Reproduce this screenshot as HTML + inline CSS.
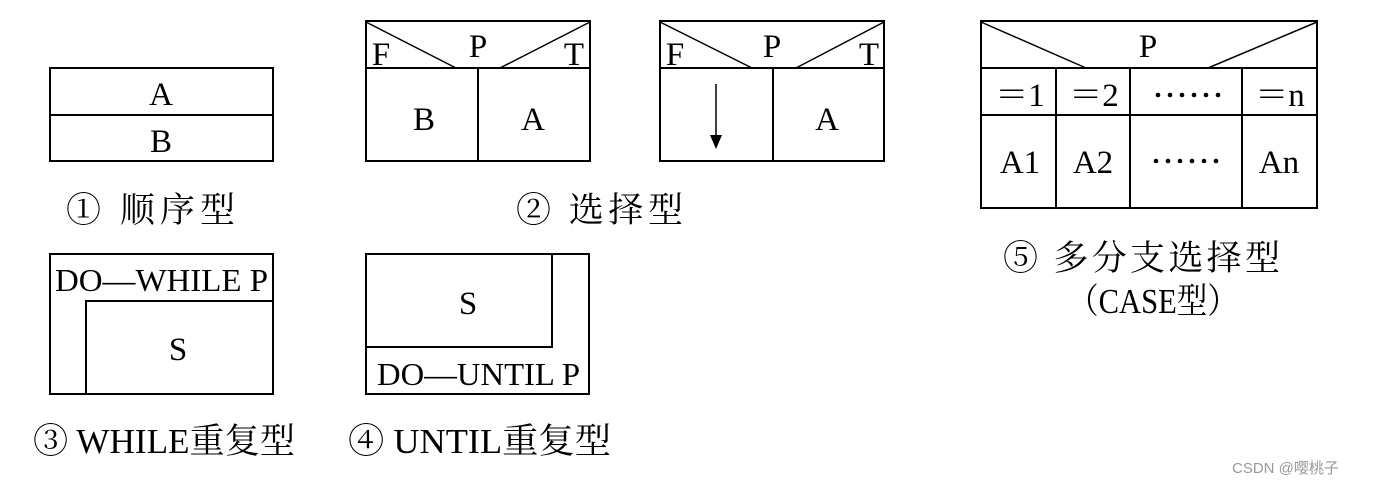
<!DOCTYPE html>
<html><head><meta charset="utf-8"><style>
html,body{margin:0;padding:0;background:#fff;}
svg text{font-family:"Liberation Serif","Noto Serif CJK SC",serif;fill:#000;}
.c{font-family:"Liberation Sans","Noto Sans CJK SC",sans-serif;}
</style></head><body>
<svg width="1380" height="486" viewBox="0 0 1380 486" xmlns="http://www.w3.org/2000/svg">
<g fill="none" stroke="#000" stroke-width="2">
<!-- 1 -->
<rect x="50" y="68" width="223" height="93"/>
<line x1="50" y1="115" x2="273" y2="115"/>
<!-- 2a -->
<rect x="366" y="21" width="224" height="140"/>
<line x1="366" y1="68" x2="590" y2="68"/>
<line x1="478" y1="68" x2="478" y2="161"/>
<line x1="366" y1="22" x2="456" y2="68" stroke-width="1.5"/>
<line x1="590" y1="22" x2="500" y2="68" stroke-width="1.5"/>
<!-- 2b -->
<rect x="660" y="21" width="224" height="140"/>
<line x1="660" y1="68" x2="884" y2="68"/>
<line x1="773" y1="68" x2="773" y2="161"/>
<line x1="660" y1="22" x2="752" y2="68" stroke-width="1.5"/>
<line x1="884" y1="22" x2="796" y2="68" stroke-width="1.5"/>
<line x1="716" y1="84" x2="716" y2="140" stroke-width="1.5"/>
<!-- 5 -->
<rect x="981" y="21" width="336" height="187"/>
<line x1="981" y1="68" x2="1317" y2="68"/>
<line x1="981" y1="115" x2="1317" y2="115"/>
<line x1="1056" y1="68" x2="1056" y2="208"/>
<line x1="1130" y1="68" x2="1130" y2="208"/>
<line x1="1242" y1="68" x2="1242" y2="208"/>
<line x1="981" y1="22" x2="1086" y2="68" stroke-width="1.5"/>
<line x1="1317" y1="22" x2="1208" y2="68" stroke-width="1.5"/>
<!-- 3 -->
<rect x="50" y="254" width="223" height="140"/>
<polyline points="86,394 86,301 273,301"/>
<!-- 4 -->
<rect x="366" y="254" width="223" height="140"/>
<polyline points="366,347 552,347 552,254"/>
</g>
<polygon points="710,135 722,135 716,149" fill="#000"/>
<g fill="#000">
<circle cx="1158" cy="95" r="2.3"/><circle cx="1170" cy="95" r="2.3"/><circle cx="1182" cy="95" r="2.3"/><circle cx="1194" cy="95" r="2.3"/><circle cx="1206" cy="95" r="2.3"/><circle cx="1218" cy="95" r="2.3"/>
<circle cx="1156" cy="161" r="2.3"/><circle cx="1168" cy="161" r="2.3"/><circle cx="1180" cy="161" r="2.3"/><circle cx="1192" cy="161" r="2.3"/><circle cx="1204" cy="161" r="2.3"/><circle cx="1216" cy="161" r="2.3"/>
</g>
<g font-size="33" text-anchor="middle">
<text x="161" y="105">A</text>
<text x="161" y="152">B</text>
<text x="381" y="65">F</text>
<text x="478" y="57">P</text>
<text x="574" y="65">T</text>
<text x="424" y="130">B</text>
<text x="533" y="130">A</text>
<text x="675" y="65">F</text>
<text x="772" y="57">P</text>
<text x="869" y="65">T</text>
<text x="827" y="130">A</text>
<text x="1148" y="57">P</text>
<text x="1020" y="106">＝1</text>
<text x="1094" y="106">＝2</text>
<text x="1280" y="106">＝n</text>
<text x="1020" y="173">A1</text>
<text x="1093" y="173">A2</text>
<text x="1279" y="173">An</text>
<text x="178" y="360">S</text>
<text x="468" y="314">S</text>
</g>
<g font-size="32">
<text x="55" y="291" textLength="213" lengthAdjust="spacingAndGlyphs">DO—WHILE P</text>
<text x="377" y="385" textLength="203" lengthAdjust="spacingAndGlyphs">DO—UNTIL P</text>
</g>
<g font-size="35">
<text x="66" y="222" textLength="169" lengthAdjust="spacing">① 顺序型</text>
<text x="516" y="222" textLength="167" lengthAdjust="spacing">② 选择型</text>
<text x="33" y="453" textLength="262" lengthAdjust="spacingAndGlyphs">③ WHILE重复型</text>
<text x="348" y="453" textLength="263" lengthAdjust="spacingAndGlyphs">④ UNTIL重复型</text>
<text x="1003" y="270" textLength="277" lengthAdjust="spacing">⑤ 多分支选择型</text>
<text x="1068" y="313" textLength="170" lengthAdjust="spacingAndGlyphs">（CASE型）</text>
</g>
<text class="c" x="1232" y="473" font-size="15" style="fill:#999">CSDN @嘤桃子</text>
</svg>
</body></html>
